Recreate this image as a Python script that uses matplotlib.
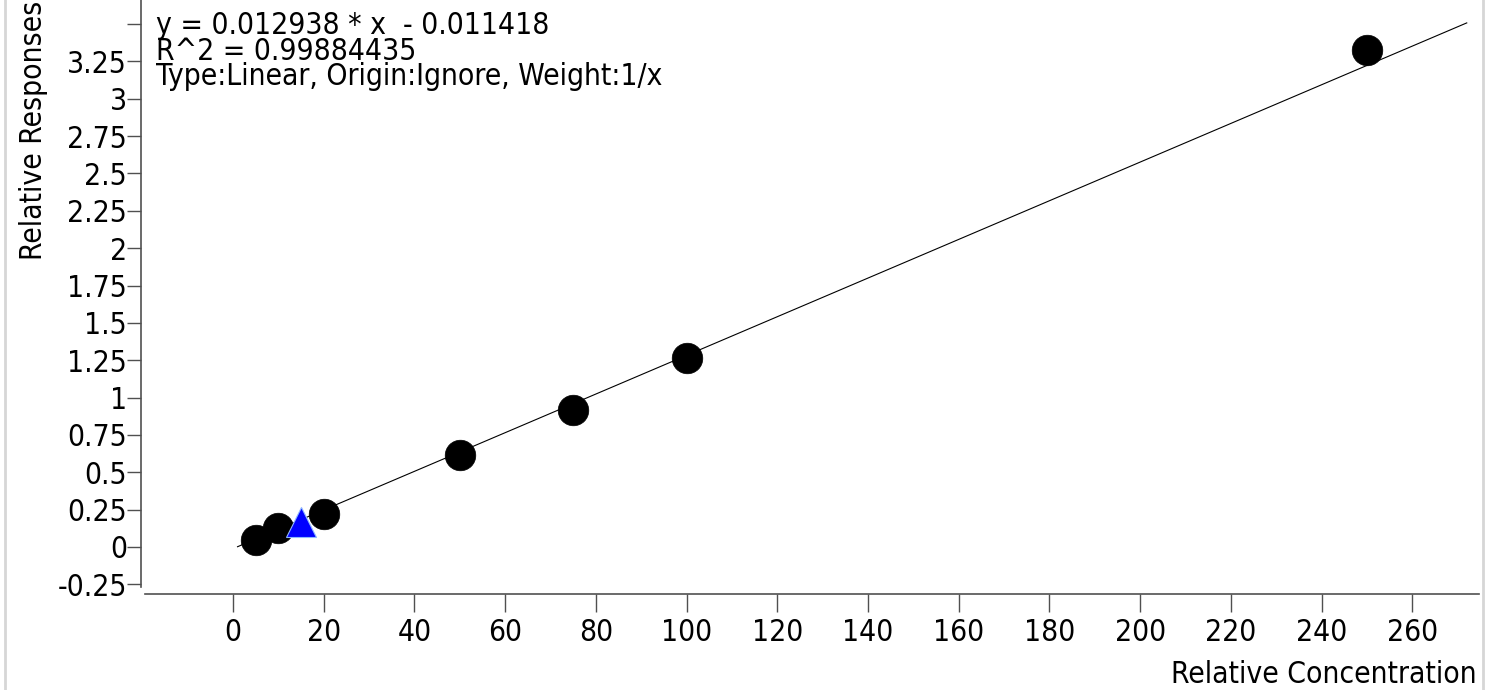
import matplotlib
matplotlib.use("Agg")
import matplotlib.pyplot as plt
from matplotlib import font_manager
from matplotlib.lines import Line2D
import numpy as np

# calibration points
conc = [5, 10, 20, 50, 75, 100, 250]
resp = [0.047, 0.125, 0.22, 0.616, 0.917, 1.265, 3.325]
sample_conc = [15]
sample_resp = [0.168]

slope = 0.012938
intercept = -0.011418
fit_range = [1, 272]

x_ticks = list(range(0, 261, 20))
y_ticks = [-0.25, 0, 0.25, 0.5, 0.75, 1, 1.25, 1.5, 1.75, 2, 2.25, 2.5, 2.75, 3, 3.25, 3.5]
y_tick_labels = ["-0.25", "0", "0.25", "0.5", "0.75", "1", "1.25", "1.5", "1.75",
                 "2", "2.25", "2.5", "2.75", "3", "3.25", ""]

info_lines = [
    "y = 0.012938 * x  - 0.011418",
    "R^2 = 0.99884435",
    "Type:Linear, Origin:Ignore, Weight:1/x",
]

# narrow Tahoma-like face if the condensed DejaVu is around
plt.rcParams["font.family"] = ["DejaVu Sans"]
cond = font_manager.FontProperties(family="DejaVu Sans", stretch="condensed")
narrow = "Condensed" in font_manager.findfont(cond)
if narrow:
    plt.rcParams["font.stretch"] = "condensed"
FS = 21.5 if narrow else 19

W, H, DPI = 1497, 690, 100
fig = plt.figure(figsize=(W / DPI, H / DPI), dpi=DPI)
ax = fig.add_axes([145 / W, 1 - 587 / H, (1479 - 145) / W, 587 / H])

ax.set_xlim(-19.4, 274.7)
ax.set_ylim(-0.268, 3.661)

xs = np.array(fit_range, dtype=float)
ax.plot(xs, slope * xs + intercept, color="black", lw=0.8, zorder=2)
ax.plot(conc, resp, "o", ms=22, color="black", mec="black", mew=0.5, zorder=3)
ax.plot(sample_conc, sample_resp, "^", ms=21, color="#0000ff", mec="#8fb8ff",
        mew=0.8, zorder=4)

for side in ("top", "right"):
    ax.spines[side].set_visible(False)
ax.spines["bottom"].set_position(("outward", 5))
ax.spines["left"].set_position(("outward", 3))
for side in ("bottom", "left"):
    ax.spines[side].set_color("#505050")
    ax.spines[side].set_linewidth(1.2)

ax.set_xticks(x_ticks)
ax.set_yticks(y_ticks)
ax.set_yticklabels(y_tick_labels)
ax.tick_params(axis="x", direction="out", length=13, width=1.0, color="#505050",
               labelsize=FS, pad=4)
ax.tick_params(axis="y", direction="out", length=10, width=1.0, color="#505050",
               labelsize=FS, pad=0)

fig.text(156 / W, 1 - 11 / H, "\n".join(info_lines), ha="left", va="top",
         fontsize=FS, linespacing=0.85)

fig.text(1477 / W, 1 - 683 / H, "Relative Concentration", ha="right",
         va="baseline", fontsize=FS)
fig.text(48 / W, 1 - 260 / H, "Relative Responses", ha="left", va="bottom",
         rotation=90, rotation_mode="anchor", fontsize=FS)

# light panel border on both sides
for px in (5, 1483):
    fig.add_artist(Line2D([px / W, px / W], [0, 1], transform=fig.transFigure,
                          color="#d6d6d6", lw=2))

fig.savefig("out.png", dpi=DPI)
